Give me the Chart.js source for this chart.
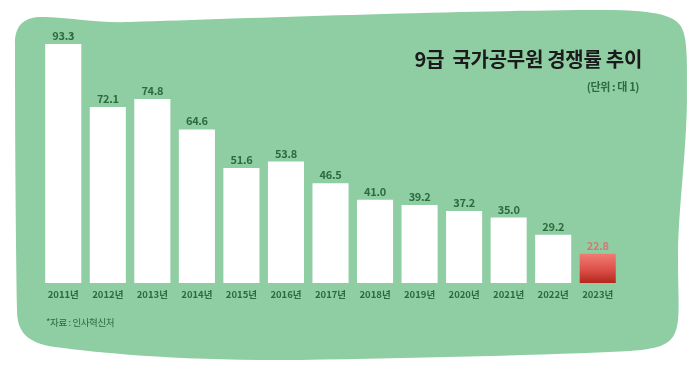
<!DOCTYPE html>
<html><head><meta charset="utf-8">
<script src="https://cdn.jsdelivr.net/npm/chart.js@4/dist/chart.umd.min.js"></script>
<style>html,body{margin:0;padding:0;background:#fff;}#wrap{width:700px;height:372px;position:relative;}</style>
</head><body><div id="wrap"><canvas id="c" width="700" height="372"></canvas></div>
<script>
const years = ['2011년','2012년','2013년','2014년','2015년','2016년','2017년','2018년','2019년','2020년','2021년','2022년','2023년'];
const ratios = [93.3,72.1,74.8,64.6,51.6,53.8,46.5,41.0,39.2,37.2,35.0,29.2,22.8];
const valueLabels = ['93.3','72.1','74.8','64.6','51.6','53.8','46.5','41.0','39.2','37.2','35.0','29.2','22.8'];
const chartTitle = '9급  국가공무원 경쟁률 추이';
const unitNote = '(단위 : 대 1)';
const sourceNote = '*자료 : 인사혁신처';
const highlightIndex = 12;
const yMin = 13, yMax = 100;

const FONT = '"Noto Sans CJK KR", "Noto Sans", sans-serif';
const GREEN_BG = '#8fcda3';
const TEXT_GREEN = '#2b6b3d';

const blobPlugin = {
  id: 'blob',
  beforeDraw(chart) {
    const c = chart.ctx;
    c.save();
    c.fillStyle = '#ffffff';
    c.fillRect(0, 0, chart.width, chart.height);
    c.beginPath();
    c.moveTo(15, 45);
    c.bezierCurveTo(14, 23, 27, 16, 45, 17);
    c.bezierCurveTo(75, 18, 95, 23, 130, 22);
    c.bezierCurveTo(250, 18, 450, 11, 590, 10);
    c.bezierCurveTo(650, 9, 672, 14, 680, 25);
    c.bezierCurveTo(688, 36, 687, 60, 687, 100);
    c.bezierCurveTo(686, 160, 678, 210, 678, 260);
    c.bezierCurveTo(678, 300, 681, 322, 674, 335);
    c.bezierCurveTo(668, 346, 655, 349, 630, 351);
    c.bezierCurveTo(550, 355, 420, 358, 300, 360);
    c.bezierCurveTo(180, 361, 100, 353, 55, 347);
    c.bezierCurveTo(27, 343, 17, 332, 17, 310);
    c.bezierCurveTo(16, 250, 15, 150, 15, 45);
    c.closePath();
    c.fillStyle = GREEN_BG;
    c.fill();
    c.restore();
  },
  afterDraw(chart) {
    const c = chart.ctx;
    c.save();
    c.fillStyle = '#1b1b1b';
    c.font = 'bold 20px ' + FONT;
    c.textAlign = 'right';
    c.textBaseline = 'middle';
    if ('letterSpacing' in c) c.letterSpacing = '-0.3px';
    c.fillText(chartTitle, 642, 59);
    c.fillStyle = TEXT_GREEN;
    c.font = 'bold 11px ' + FONT;
    if ('letterSpacing' in c) c.letterSpacing = '-0.4px';
    c.fillText(unitNote, 639, 87);
    c.textAlign = 'left';
    c.font = '9.5px ' + FONT;
    c.fillText(sourceNote, 46, 322);
    c.restore();
  }
};

const valueLabelPlugin = {
  id: 'valueLabels',
  afterDatasetsDraw(chart) {
    const c = chart.ctx;
    const meta = chart.getDatasetMeta(0);
    c.save();
    c.font = 'bold 11px ' + FONT;
    c.textAlign = 'center';
    c.textBaseline = 'alphabetic';
    if ('letterSpacing' in c) c.letterSpacing = '-0.3px';
    meta.data.forEach((bar, i) => {
      c.fillStyle = i === highlightIndex ? '#d27a72' : TEXT_GREEN;
      c.fillText(valueLabels[i], bar.x, bar.y - 4);
    });
    c.restore();
  }
};

new Chart(document.getElementById('c'), {
  type: 'bar',
  data: {
    labels: years,
    datasets: [{
      data: ratios,
      backgroundColor: (ctx) => {
        if (ctx.dataIndex !== highlightIndex) return '#ffffff';
        const chart = ctx.chart;
        if (!chart.chartArea) return '#d0463c';
        const y = chart.scales.y;
        const top = y.getPixelForValue(ratios[highlightIndex]);
        const bottom = y.getPixelForValue(yMin);
        const g = chart.ctx.createLinearGradient(0, top, 0, bottom);
        g.addColorStop(0, '#f07c73');
        g.addColorStop(0.55, '#dc5048');
        g.addColorStop(1, '#b2261c');
        return g;
      },
      borderWidth: 0,
      categoryPercentage: 1,
      barPercentage: 0.81
    }]
  },
  options: {
    responsive: false,
    animation: false,
    devicePixelRatio: 1,
    layout: { padding: { left: 41, right: 80, top: 24, bottom: 0 } },
    plugins: { legend: { display: false }, tooltip: { enabled: false } },
    scales: {
      x: {
        grid: { display: false, drawTicks: false },
        border: { display: false },
        ticks: {
          color: TEXT_GREEN,
          font: { family: FONT, size: 9.5, weight: 'bold' },
          padding: 6,
          maxRotation: 0,
          autoSkip: false
        },
        afterFit(scale) { scale.height = 89; }
      },
      y: {
        display: false,
        min: yMin,
        max: yMax
      }
    }
  },
  plugins: [blobPlugin, valueLabelPlugin]
});
</script>
</body></html>
